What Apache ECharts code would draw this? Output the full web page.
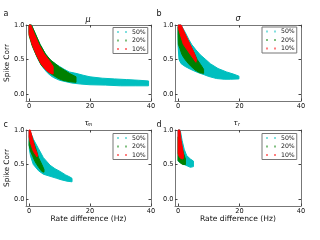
<!DOCTYPE html>
<html><head><meta charset="utf-8">
<script src="https://cdn.jsdelivr.net/npm/echarts@6/dist/echarts.min.js"></script>
<style>html,body{margin:0;padding:0;background:#fff}#c{width:320px;height:240px}</style>
</head><body><div id="c"></div>
<script>
const seriesNames = ['50%', '20%', '10%'];
const seriesColors = ['#00bfbf', '#008000', '#ff0000'];
const panelLetters = ['a', 'b', 'c', 'd'];
const xTicks = [0, 20, 40];
const yTicks = [0, 0.5, 1];

// Outlines [rate difference, spike corr] of each point cloud
const muCyan = [[0,1.0],[0.8,1.0],[2.1,0.87],[3.6,0.72],[5.4,0.58],[7.1,0.49],[8.6,0.44],[10,0.4],[11.5,0.36],[13.2,0.32],[15.4,0.3],[18,0.27],[20,0.25],[24,0.23],[28,0.22],[32,0.21],[36,0.2],[39.2,0.19],[39.2,0.12],[35,0.12],[30,0.12],[25,0.13],[20,0.135],[17,0.145],[14,0.16],[12,0.18],[10,0.2],[8,0.24],[7,0.27],[6,0.31],[5,0.36],[4,0.42],[3,0.5],[2,0.6],[1,0.72],[0.5,0.82],[0,0.9]];
const muGreen = [[0,1.0],[0.8,1.0],[2.1,0.87],[3.6,0.72],[5.4,0.58],[7.1,0.49],[8.6,0.44],[10,0.39],[11.5,0.35],[13.2,0.3],[15.4,0.25],[15.4,0.17],[13.2,0.18],[11,0.2],[9.5,0.23],[8,0.27],[6,0.33],[4,0.42],[2.5,0.55],[1,0.7],[0,0.85]];
const muRed = [[0,1.0],[0.6,1.0],[1.75,0.87],[3.2,0.72],[5,0.58],[6.7,0.48],[7.9,0.4],[7.9,0.29],[6.7,0.31],[5.5,0.35],[3.9,0.44],[2.3,0.58],[1,0.72],[0,0.87]];

const sigmaCyan = [[0,1.0],[1.0,1.0],[2.6,0.87],[3.5,0.79],[4.4,0.72],[5.8,0.64],[7.2,0.57],[9,0.5],[10.5,0.44],[13,0.37],[15.8,0.32],[18,0.29],[19.8,0.26],[19.8,0.22],[17,0.215],[15,0.215],[12.5,0.225],[10,0.255],[8.5,0.28],[6,0.32],[4,0.36],[2.3,0.4],[1,0.44],[0.3,0.5],[0,0.7]];
const sigmaGreen = [[0,0.97],[0.9,0.95],[2.2,0.86],[3.8,0.72],[5.2,0.6],[6.2,0.5],[7.3,0.43],[8.3,0.36],[8.3,0.3],[7,0.31],[5.5,0.35],[4,0.41],[2.8,0.47],[1.8,0.53],[1.2,0.58],[0.6,0.66],[0.1,0.72],[0,0.85]];
const sigmaRed = [[0,1.0],[1,1.0],[2.3,0.87],[3.9,0.72],[5.2,0.6],[6,0.5],[5.8,0.46],[5.0,0.51],[3.1,0.63],[1.7,0.72],[0.65,0.87],[0.1,0.95]];

const tauMCyan = [[0,1.0],[0.5,0.97],[1.5,0.86],[3.1,0.73],[4.7,0.6],[6.9,0.49],[8.5,0.44],[10.2,0.4],[12,0.35],[13.4,0.32],[14.1,0.3],[14.1,0.25],[12.4,0.26],[10.5,0.28],[9.1,0.3],[6.9,0.33],[4.7,0.36],[3.1,0.41],[1.4,0.5],[0.5,0.62],[0.1,0.72],[0,0.85]];
const tauMGreen = [[0.2,0.99],[1.2,0.86],[2.3,0.72],[3.1,0.6],[4.2,0.5],[4.9,0.43],[4.9,0.39],[4.2,0.4],[3,0.47],[2,0.54],[1.2,0.62],[0.6,0.68],[0,0.78]];
const tauMRed = [[0,1.0],[0.4,1.0],[1.1,0.88],[2.0,0.73],[2.8,0.64],[2.6,0.61],[1.4,0.69],[0.4,0.82],[0,0.9]];

const tauRCyan = [[0,1.0],[0.7,1.0],[1.3,0.85],[2,0.72],[2.8,0.63],[4,0.58],[5,0.55],[5,0.47],[4,0.46],[3,0.48],[2,0.5],[1,0.52],[0,0.55]];
const tauRGreen = [[0,0.9],[0.6,0.86],[1.2,0.76],[1.8,0.66],[2.4,0.58],[2.4,0.5],[1.6,0.5],[0.8,0.52],[0,0.56]];
const tauRRed = [[0,1.0],[0.6,1.0],[1.0,0.85],[1.5,0.72],[1.8,0.62],[1.6,0.58],[0.8,0.59],[0.3,0.62],[0,0.66]];

const panelClouds = [
  [muCyan, muGreen, muRed],
  [sigmaCyan, sigmaGreen, sigmaRed],
  [tauMCyan, tauMGreen, tauMRed],
  [tauRCyan, tauRGreen, tauRRed]
];

const FF = 'DejaVu Sans';
const grids = [
  {left: 26, top: 25, width: 125, height: 76},
  {left: 175, top: 25, width: 126, height: 76},
  {left: 26, top: 130, width: 125, height: 76},
  {left: 175, top: 130, width: 126, height: 76}
];
const legendPos = [[113, 27.5], [262, 27], [113, 133.5], [262, 133.5]];

const xAxis = [], yAxis = [], series = [];
grids.forEach((g, gi) => {
  const lineC = '#777';
  const tick = (vals) => ({show: true, inside: true, length: 2.5, customValues: vals, lineStyle: {color: '#444', width: 1}});
  const xBase = {type: 'value', gridIndex: gi, min: -1, max: 40, splitLine: {show: false},
    axisLine: {show: true, onZero: false, lineStyle: {color: lineC, width: 1}}, axisTick: tick(xTicks)};
  xAxis.push(Object.assign({}, xBase, {position: 'bottom',
    axisLabel: {customValues: xTicks, fontSize: 6.6, color: '#111', margin: 1.5, fontFamily: FF},
    name: gi >= 2 ? 'Rate difference (Hz)' : '', nameLocation: 'middle', nameGap: 6.5,
    nameTextStyle: {fontSize: 7.6, color: '#111', fontFamily: FF}}));
  xAxis.push(Object.assign({}, xBase, {position: 'top', axisLabel: {show: false}}));
  const yBase = {type: 'value', gridIndex: gi, min: -0.1, max: 1.0, splitLine: {show: false},
    axisLine: {show: true, onZero: false, lineStyle: {color: lineC, width: 1}}, axisTick: tick(yTicks)};
  yAxis.push(Object.assign({}, yBase, {position: 'left',
    axisLabel: {customValues: yTicks, fontSize: 6.6, color: '#111', margin: 1.5, fontFamily: FF,
      formatter: v => v.toFixed(1)},
    name: gi % 2 === 0 ? 'Spike Corr' : '', nameLocation: 'middle', nameGap: 13,
    nameTextStyle: {fontSize: 7.4, color: '#111', fontFamily: FF}}));
  yAxis.push(Object.assign({}, yBase, {position: 'right', axisLabel: {show: false}}));

  panelClouds[gi].forEach((poly, si) => {
    const color = seriesColors[si];
    series.push({
      type: 'custom', name: seriesNames[si], coordinateSystem: 'cartesian2d',
      xAxisIndex: gi * 2, yAxisIndex: gi * 2, data: poly, encode: {x: 0, y: 1},
      itemStyle: {color: color}, silent: true, animation: false, clip: false,
      renderItem: function (params, api) {
        if (params.dataIndex !== 0) return null;
        const pts = poly.map(p => api.coord(p));
        return {type: 'polygon', shape: {points: pts},
          style: {fill: color, stroke: color, lineWidth: 1, lineJoin: 'round'}};
      }
    });
  });
});

const legend = legendPos.map(([l, t]) => ({
  left: l, top: t, orient: 'vertical', selectedMode: false,
  data: seriesNames.map(n => ({name: n, itemStyle: {opacity: 0.5}})),
  icon: 'path://M0,0h2v2h-2zM8,0h2v2h-2z', itemWidth: 10, itemHeight: 2, itemGap: 0.5,
  padding: [0.5, 2, 0.5, 4], borderColor: '#777', borderWidth: 1, backgroundColor: '#fff',
  textStyle: {fontSize: 6.2, lineHeight: 8, color: '#111', fontFamily: FF}
}));

const txt = (text, x, y, size, italic, align) => ({type: 'text', x: x, y: y, silent: true,
  style: {text: text, fontSize: size, fontFamily: FF, fontStyle: italic ? 'italic' : 'normal',
    fill: '#111', align: align || 'left', verticalAlign: 'middle'}});

const graphic = [
  txt(panelLetters[0], 3.5, 14, 8, false),
  txt(panelLetters[1], 156.5, 14, 8, false),
  txt(panelLetters[2], 3.5, 124.5, 8, false),
  txt(panelLetters[3], 156.5, 124.5, 8, false),
  txt('μ', 88, 19.5, 8, true, 'center'),
  txt('σ', 238, 19, 8, true, 'center'),
  txt('τ', 86.5, 123, 7.5, true, 'center'),
  txt('m', 90, 125, 5, true, 'center'),
  txt('τ', 235.5, 123, 7.5, true, 'center'),
  txt('r', 238.8, 125, 5, true, 'center')
];

const chart = echarts.init(document.getElementById('c'), null, {renderer: 'canvas'});
chart.setOption({
  animation: false, backgroundColor: '#fff',
  grid: grids, xAxis: xAxis, yAxis: yAxis, legend: legend, series: series, graphic: graphic
});
</script></body></html>
